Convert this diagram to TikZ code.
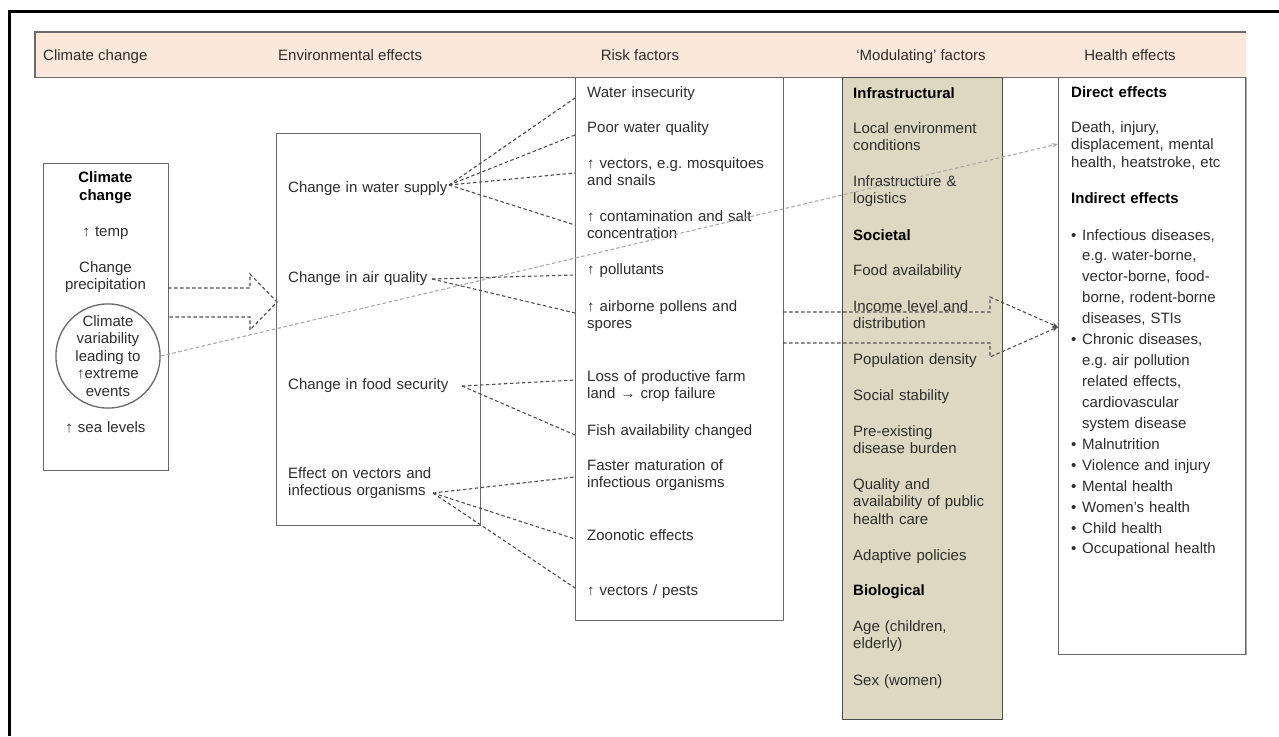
\documentclass[tikz,border=0pt]{standalone}
\usepackage{fontspec}
\setmainfont{Liberation Sans}
\usetikzlibrary{arrows.meta}
\definecolor{hdrfill}{RGB}{252,232,218}
\definecolor{modfill}{RGB}{221,216,193}
\definecolor{boxline}{RGB}{105,105,105}
\definecolor{txtc}{RGB}{45,45,45}
\definecolor{dashc}{RGB}{80,80,80}
\definecolor{lightc}{RGB}{170,170,170}
\begin{document}
\frenchspacing
\begin{tikzpicture}[x=1pt,y=-1pt,
  box/.style={draw=boxline, line width=1.3pt, fill=white, inner sep=0pt, anchor=north west},
  txt/.style={anchor=base west, inner sep=0pt, text=txtc, font=\fontsize{15}{17.6}\selectfont, align=left, text width=200pt},
  ctxt/.style={txt, anchor=base, align=center, text width=120pt},
  hd/.style={anchor=base west, inner sep=0pt, text=txtc, font=\fontsize{15}{17.6}\selectfont},
  bld/.style={txt, text=black, font=\fontsize{15}{17.6}\selectfont\bfseries},
  dconn/.style={draw=dashc, line width=1.1pt, dash pattern=on 3.5pt off 2.5pt},
  lconn/.style={draw=lightc, line width=1.1pt, dash pattern=on 3.5pt off 2.5pt},
  tip/.style={-{Stealth[length=6pt,width=4.5pt]}}
]
\useasboundingbox (0,0) rectangle (1279,736);
% outer frame
\draw[line width=3pt, black] (9,736) -- (9,11) -- (1279,11);
% header band
\node[anchor=north west, fill=hdrfill, minimum width=1211pt, minimum height=45pt, inner sep=0pt] (hdr) at (35,32) {};
\draw[boxline, line width=1.3pt] (hdr.north east) -- (hdr.north west) -- (hdr.south west) -- (hdr.south east);
\node[hd] (h1) at (43,60) {Climate change};
\node[hd] (h2) at (278,60) {Environmental effects};
\node[hd, anchor=base] (h3) at (640,60) {Risk factors};
\node[hd, anchor=base] (h4) at (921,60) {‘Modulating’ factors};
\node[hd, anchor=base] (h5) at (1130,60) {Health effects};

% boxes
\node[box, minimum width=125pt, minimum height=307pt] (ccbox) at (43,163) {};
\node[box, minimum width=204pt, minimum height=392pt] (envbox) at (276,133) {};
\node[box, minimum width=208pt, minimum height=543pt] (riskbox) at (575,77) {};
\node[box, fill=modfill, draw=black!70, minimum width=160pt, minimum height=642pt] (modbox) at (842,77) {};
\node[box, minimum width=187pt, minimum height=577pt] (hbox) at (1058,77) {};
\draw[lightc, line width=1.3pt] (hbox.north east) -- (hbox.south east);

% climate change box
\node[ctxt, text=black, font=\fontsize{15}{18}\selectfont\bfseries] (cc) at (105.5,182) {Climate\\change};
\node[ctxt] (cctemp) at (105.5,236) {↑ temp};
\node[ctxt] (ccprec) at (105.5,272) {Change\\precipitation};
\node[draw=boxline, line width=1.3pt, circle, minimum size=102pt, inner sep=0pt, text=txtc,
      font=\fontsize{15}{17.6}\selectfont, align=center] (circ) at (108,356)
      {Climate\\variability\\leading to\\↑extreme\\events};
\node[ctxt] (ccsea) at (105.5,432) {↑ sea levels};

% block arrow (dashed outline)
\draw[dconn] (168,288) -- (250,288) -- (250,274) -- (277,302) -- (250,330) -- (250,317) -- (168,317);

% environmental effects
\node[txt] (ew) at (288,192) {Change in water supply};
\node[txt] (ea) at (288,282) {Change in air quality};
\node[txt] (ef) at (288,389) {Change in food security};
\node[txt] (ev) at (288,478) {Effect on vectors and\\infectious organisms};

% risk factors
\node[txt] (r1) at (587,97) {Water insecurity};
\node[txt] (r2) at (587,132) {Poor water quality};
\node[txt] (r3) at (587,168) {↑ vectors, e.g. mosquitoes\\and snails};
\node[txt] (r4) at (587,221) {↑ contamination and salt\\concentration};
\node[txt] (r5) at (587,274) {↑ pollutants};
\node[txt] (r6) at (587,311) {↑ airborne pollens and\\spores};
\node[txt] (r7) at (587,381) {Loss of productive farm\\land → crop failure};
\node[txt] (r8) at (587,435) {Fish availability changed};
\node[txt] (r9) at (587,470) {Faster maturation of\\infectious organisms};
\node[txt] (r10) at (587,540) {Zoonotic effects};
\node[txt] (r11) at (587,595) {↑ vectors / pests};

% modulating factors
\node[bld] (m0) at (853,98) {Infrastructural};
\node[txt] (m1) at (853,133) {Local environment\\conditions};
\node[txt] (m2) at (853,186) {Infrastructure \&\\logistics};
\node[bld] (m3) at (853,240) {Societal};
\node[txt] (m4) at (853,275) {Food availability};
\node[txt] (m5) at (853,311) {Income level and\\distribution};
\node[txt] (m6) at (853,364) {Population density};
\node[txt] (m7) at (853,400) {Social stability};
\node[txt] (m8) at (853,436) {Pre-existing\\disease burden};
\node[txt] (m9) at (853,489) {Quality and\\availability of public\\health care};
\node[txt] (m10) at (853,560) {Adaptive policies};
\node[bld] (m11) at (853,595) {Biological};
\node[txt] (m12) at (853,631) {Age (children,\\elderly)};
\node[txt] (m13) at (853,685) {Sex (women)};

% health effects
\node[bld] (hd1) at (1071,97) {Direct effects};
\node[txt] (hd2) at (1071,132) {Death, injury,\\displacement, mental\\health, heatstroke, etc};
\node[bld] (hd3) at (1071,203) {Indirect effects};
\node[txt, font=\fontsize{15}{20.93}\selectfont] (hd4) at (1071,240)
  {\makebox[11pt][l]{•}Infectious diseases,\\
   \hspace*{11pt}e.g. water-borne,\\
   \hspace*{11pt}vector-borne, food-\\
   \hspace*{11pt}borne, rodent-borne\\
   \hspace*{11pt}diseases, STIs\\
   \makebox[11pt][l]{•}Chronic diseases,\\
   \hspace*{11pt}e.g. air pollution\\
   \hspace*{11pt}related effects,\\
   \hspace*{11pt}cardiovascular\\
   \hspace*{11pt}system disease\\
   \makebox[11pt][l]{•}Malnutrition\\
   \makebox[11pt][l]{•}Violence and injury\\
   \makebox[11pt][l]{•}Mental health\\
   \makebox[11pt][l]{•}Women’s health\\
   \makebox[11pt][l]{•}Child health\\
   \makebox[11pt][l]{•}Occupational health};

% connector end points
\coordinate (ws) at (449,185);
\coordinate (as) at (432,279);
\coordinate (fs) at (462,386);
\coordinate (vs) at (433,493);
\coordinate (t1) at (575,98);
\coordinate (t2) at (575,135);
\coordinate (t3) at (575,173);
\coordinate (t4) at (575,225);
\coordinate (t5) at (575,275);
\coordinate (t6) at (575,313);
\coordinate (t7) at (575,380);
\coordinate (t8) at (575,435);
\coordinate (t9) at (575,477);
\coordinate (t10) at (575,539);
\coordinate (t11) at (575,588);
\coordinate (hdir) at (1058,144);
\coordinate (hind) at (1058,327);
\coordinate (k1) at (783,312);
\coordinate (k1a) at (990,312);
\coordinate (k1b) at (990,297);
\coordinate (k2) at (783,343);
\coordinate (k2a) at (990,343);
\coordinate (k2b) at (990,357);

% light line from extreme events to direct effects
\draw[lconn, tip] (circ.east) -- (hdir);

% environment -> risk factors
\foreach \t in {t1,t2,t3,t4} \draw[dconn] (ws) -- (\t);
\foreach \t in {t5,t6} \draw[dconn] (as) -- (\t);
\foreach \t in {t7,t8} \draw[dconn] (fs) -- (\t);
\foreach \t in {t9,t10,t11} \draw[dconn] (vs) -- (\t);

% risk -> modulating -> health
\draw[dconn, tip] (k1) -- (k1a) -- (k1b) -- (hind);
\draw[dconn, tip] (k2) -- (k2a) -- (k2b) -- (hind);
\end{tikzpicture}
\end{document}
